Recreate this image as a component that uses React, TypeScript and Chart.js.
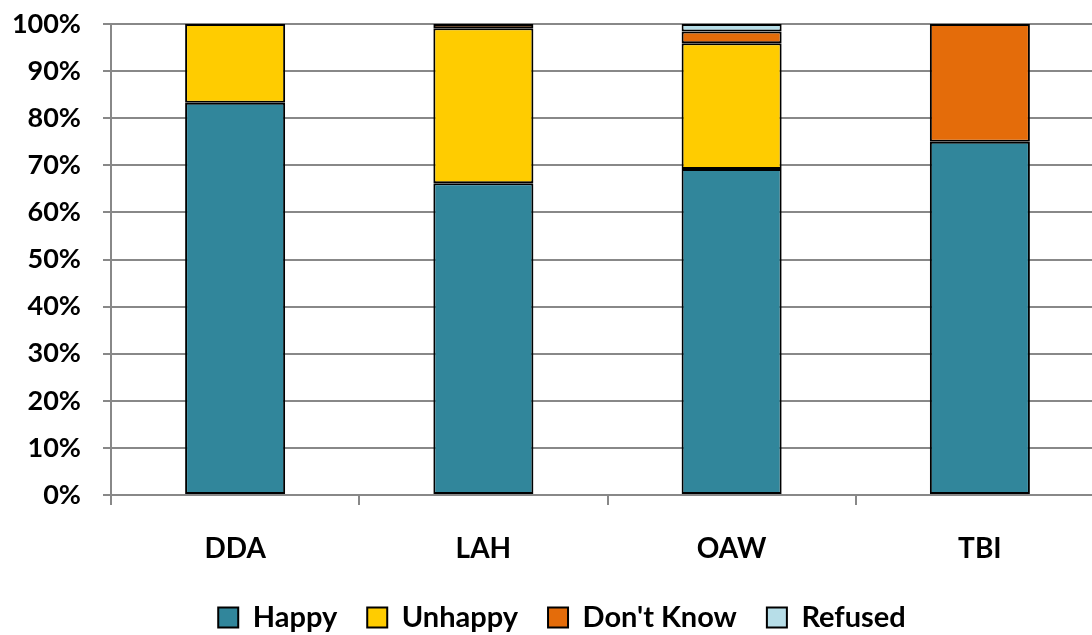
import React, { useEffect, useRef } from "react";
import { Chart, registerables } from "chart.js";

Chart.register(...registerables);

const categories = ["DDA", "LAH", "OAW", "TBI"];
const happy = [83.3, 66.2, 69.2, 75];
const unhappy = [16.7, 32.9, 26.7, 0];
const dontKnow = [0, 0.9, 2.5, 25];
const refused = [0, 0, 1.6, 0];
const yTicks = [0, 10, 20, 30, 40, 50, 60, 70, 80, 90, 100];

export default function App() {
  const ref = useRef<HTMLCanvasElement | null>(null);
  useEffect(() => {
    document.body.style.margin = "0";
    const fam = "Lato, 'Open Sans', sans-serif";
    const tickFont = { family: fam, weight: "bold" as const, size: 27 };
    const xFont = { family: fam, weight: "bold" as const, size: 28 };
    const legendFont = { family: fam, weight: "bold" as const, size: 29 };
    const mk = (label: string, data: number[], color: string) => ({
      label,
      data,
      backgroundColor: color,
      borderColor: "#000",
      borderWidth: 2,
      borderSkipped: false as const,
      barPercentage: 0.403,
      categoryPercentage: 1,
    });
    const shiftLegend = {
      id: "shiftLegend",
      beforeDraw: (c: any) => {
        if (c.legend && !c.legend._shifted) {
          c.legend.left += 20;
          c.legend._shifted = true;
        }
      },
    };
    const chart = new Chart(ref.current!, {
      type: "bar",
      plugins: [shiftLegend],
      data: {
        labels: categories,
        datasets: [
          mk("Happy", happy, "#31869B"),
          mk("Unhappy", unhappy, "#FFCC00"),
          mk("Don't Know", dontKnow, "#E46C0A"),
          mk("Refused", refused, "#B7DEE8"),
        ],
      },
      options: {
        animation: false,
        responsive: true,
        maintainAspectRatio: false,
        layout: { padding: { top: 24, right: 0, left: 0, bottom: -7 } },
        plugins: {
          tooltip: { enabled: false },
          legend: {
            position: "bottom",
            labels: {
              font: legendFont,
              color: "#000",
              boxWidth: 20,
              boxHeight: 20,
              padding: 30,
              generateLabels: (c: any) =>
                c.data.datasets.map((d: any, i: number) => ({
                  text: d.label,
                  fillStyle: d.backgroundColor,
                  strokeStyle: "#000",
                  lineWidth: 2,
                  datasetIndex: i,
                  fontColor: "#000",
                })),
            },
          },
        },
        scales: {
          x: {
            stacked: true,
            afterFit: (axis: any) => {
              axis.height = 78;
              axis.paddingLeft = 0;
              axis.paddingRight = 0;
            },
            grid: {
              offset: true,
              drawOnChartArea: false,
              color: "#888",
              lineWidth: 2,
              tickLength: 10,
            },
            border: { color: "#888", width: 2 },
            ticks: { font: xFont, color: "#000", padding: 27 },
          },
          y: {
            stacked: true,
            min: 0,
            max: 100,
            afterFit: (axis: any) => {
              axis.width = 111;
              axis.paddingTop = 0;
              axis.paddingBottom = 0;
            },
            afterBuildTicks: (axis: any) => {
              axis.ticks = yTicks.map((v) => ({ value: v }));
            },
            grid: { color: "#888", lineWidth: 2, tickLength: 8 },
            border: { color: "#888", width: 2 },
            ticks: {
              font: tickFont,
              color: "#000",
              padding: 22,
              callback: (v: any) => v + "%",
            },
          },
        },
      },
    });
    return () => chart.destroy();
  }, []);
  return (
    <div style={{ width: 1092, height: 635, overflow: "hidden", position: "relative" }}>
      <div style={{ width: 1104, height: 635, position: "relative" }}>
        <canvas ref={ref} />
      </div>
    </div>
  );
}
